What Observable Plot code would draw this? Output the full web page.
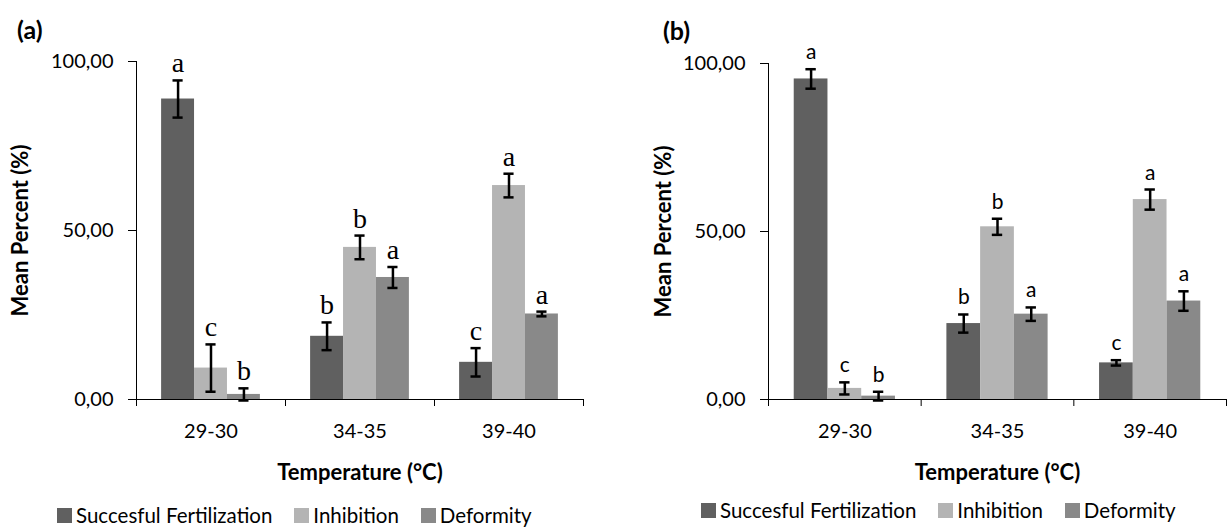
<!DOCTYPE html>
<html>
<head>
<meta charset="utf-8">
<script src="https://cdn.jsdelivr.net/npm/d3@7"></script>
<script src="https://cdn.jsdelivr.net/npm/@observablehq/plot@0.6"></script>
<style>
  html, body { margin: 0; padding: 0; background: #fff; }
  #root { position: relative; width: 1228px; height: 530px; overflow: hidden; font-family: Lato, sans-serif; }
  .panel { position: absolute; top: 0; width: 614px; height: 530px; }
  .panel svg { position: absolute; left: 0; top: 0; overflow: visible; }
  .plabel { position: absolute; font-weight: bold; font-size: 25px; color: #000; line-height: 1; }
  .legend { position: absolute; display: flex; align-items: center; font-size: 20.5px; color: #000; white-space: nowrap; line-height: 1.15; }
  .legend .item { display: flex; align-items: center; margin-right: 22px; }
  .legend .sw { width: 15px; height: 15px; margin-right: 4px; }
</style>
</head>
<body>
<div id="root"></div>
<script>
// ---- data ----
const categories = ["29-30", "34-35", "39-40"];
const series = ["Succesful Fertilization", "Inhibition", "Deformity"];
const colors = ["#606060", "#b4b4b4", "#898989"];
const yTicks = [0, 50, 100];

// panel (a)
const aFert = [88.9, 18.7, 11.0];
const aFertErr = [5.5, 4.1, 4.2];
const aInhib = [9.3, 45.0, 63.3];
const aInhibErr = [7.0, 3.5, 3.5];
const aDeform = [1.5, 36.1, 25.3];
const aDeformErr = [1.8, 3.1, 0.7];
const aFertLetters = ["a", "b", "c"];
const aInhibLetters = ["c", "b", "a"];
const aDeformLetters = ["b", "a", "a"];

// panel (b)
const bFert = [95.4, 22.6, 10.9];
const bFertErr = [2.9, 2.7, 0.8];
const bInhib = [3.3, 51.4, 59.5];
const bInhibErr = [1.8, 2.4, 3.0];
const bDeform = [1.0, 25.4, 29.3];
const bDeformErr = [1.3, 2.0, 2.9];
const bFertLetters = ["a", "b", "c"];
const bInhibLetters = ["c", "b", "a"];
const bDeformLetters = ["b", "a", "a"];

function rowsFrom(means, errs, letters) {
  const rows = [];
  categories.forEach((cat, ci) => {
    series.forEach((s, si) => {
      rows.push({cat, ci, series: s, si, mean: means[si][ci], err: errs[si][ci], letter: letters[si][ci]});
    });
  });
  return rows;
}

const rowsA = rowsFrom([aFert, aInhib, aDeform], [aFertErr, aInhibErr, aDeformErr], [aFertLetters, aInhibLetters, aDeformLetters]);
const rowsB = rowsFrom([bFert, bInhib, bDeform], [bFertErr, bInhibErr, bDeformErr], [bFertLetters, bInhibLetters, bDeformLetters]);

const bw = 0.221;                 // bar width as fraction of a category
const off = (1 - 3 * bw) / 2;     // offset of first bar inside category
const cap = 0.034;                // half-width of error caps
const center = d => d.ci + off + (d.si + 0.5) * bw;
const fmt = d => d3.format(".2f")(d).replace(".", ",");

function makePlot(rows, opts) {
  return Plot.plot({
    width: 614,
    height: 490,
    marginLeft: opts.ml,
    marginRight: opts.mr,
    marginTop: opts.mt,
    marginBottom: 91,
    style: {fontFamily: "Lato, sans-serif", fontSize: "20px", color: "#000", background: "transparent"},
    x: {domain: [0, 3]},
    y: {domain: [0, 100]},
    color: {domain: series, range: colors},
    marks: [
      Plot.rectY(rows, {
        x1: d => d.ci + off + d.si * bw,
        x2: d => d.ci + off + (d.si + 1) * bw,
        y1: 0, y2: "mean", fill: "series"
      }),
      Plot.ruleX(rows, {x: center, y1: d => d.mean - d.err, y2: d => d.mean + d.err, stroke: "#000", strokeWidth: 2.5}),
      Plot.ruleY(rows, {y: d => d.mean + d.err, x1: d => center(d) - cap, x2: d => center(d) + cap, stroke: "#000", strokeWidth: 2.5}),
      Plot.ruleY(rows, {y: d => d.mean - d.err, x1: d => center(d) - cap, x2: d => center(d) + cap, stroke: "#000", strokeWidth: 2.5}),
      Plot.text(rows, {x: center, y: d => d.mean + d.err, text: "letter", lineAnchor: "bottom", dy: -opts.gap,
        fontFamily: opts.letterFont, fontSize: opts.letterSize, fill: "#000"}),
      Plot.ruleX([0], {stroke: "#000", strokeWidth: 1}),
      Plot.ruleY([0], {stroke: "#000", strokeWidth: 1}),
      Plot.axisY({ticks: yTicks, tickFormat: fmt, tickSize: 8, tickPadding: 15, label: null, stroke: "#000"}),
      Plot.axisX({ticks: [0, 1, 2, 3], tickFormat: () => "", tickSize: 7, label: null, stroke: "#000"}),
      Plot.axisX({ticks: [0.5, 1.5, 2.5], tickFormat: d => categories[Math.floor(d)], tickSize: 0, tickPadding: 24, label: null}),
      Plot.text(["Temperature (°C)"], {frameAnchor: "bottom", dy: 73, lineAnchor: "middle", fontWeight: "bold", fontSize: 22, fill: "#000"}),
      Plot.text(["Mean Percent (%)"], {frameAnchor: "left", dx: opts.ytdx, rotate: -90, lineAnchor: "middle", textAnchor: "middle", fontWeight: "bold", fontSize: 22, fill: "#000"})
    ]
  });
}

function legend(left, top) {
  const lg = document.createElement("div");
  lg.className = "legend";
  lg.style.left = left + "px";
  lg.style.top = top + "px";
  series.forEach((s, i) => {
    const it = document.createElement("div");
    it.className = "item";
    const sw = document.createElement("span");
    sw.className = "sw";
    sw.style.background = colors[i];
    const tx = document.createElement("span");
    tx.textContent = s;
    it.appendChild(sw); it.appendChild(tx);
    lg.appendChild(it);
  });
  return lg;
}

const root = document.getElementById("root");

const pa = document.createElement("div");
pa.className = "panel"; pa.style.left = "0px";
pa.appendChild(makePlot(rowsA, {ml: 136, mr: 31, mt: 61, gap: 8, letterFont: "'Liberation Serif', serif", letterSize: 28, ytdx: -116}));
const la = document.createElement("div"); la.className = "plabel"; la.textContent = "(a)"; la.style.left = "17px"; la.style.top = "17px";
pa.appendChild(la);
pa.appendChild(legend(57, 504));
root.appendChild(pa);

const pb = document.createElement("div");
pb.className = "panel"; pb.style.left = "614px";
pb.appendChild(makePlot(rowsB, {ml: 154, mr: 2, mt: 63, gap: 10, letterFont: "Lato, sans-serif", letterSize: 21, ytdx: -105}));
const lb = document.createElement("div"); lb.className = "plabel"; lb.textContent = "(b)"; lb.style.left = "49px"; lb.style.top = "18px";
pb.appendChild(lb);
pb.appendChild(legend(87, 499));
root.appendChild(pb);
</script>
</body>
</html>
